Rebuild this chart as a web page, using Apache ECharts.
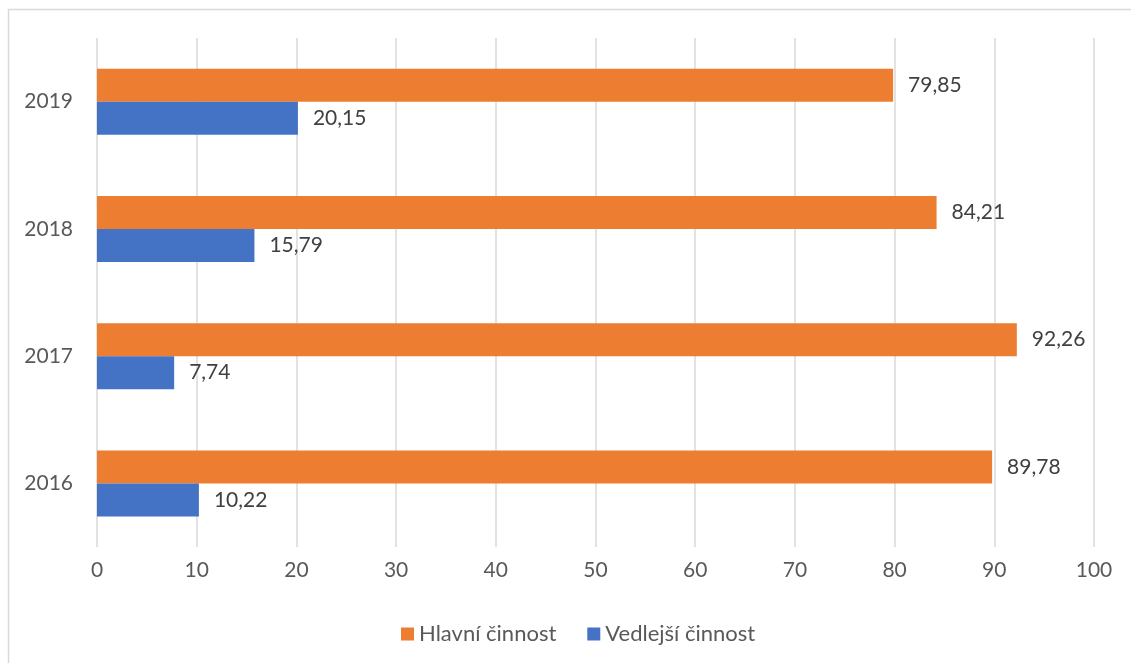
<!DOCTYPE html>
<html>
<head>
<meta charset="utf-8">
<script src="https://cdn.jsdelivr.net/npm/echarts@6/dist/echarts.min.js"></script>
<style>html,body{margin:0;padding:0;background:#fff}#c{width:1131px;height:663px}</style>
</head>
<body>
<div id="c"></div>
<script>
const categories = ['2016', '2017', '2018', '2019'];
const hlavni = [89.78, 92.26, 84.21, 79.85];
const vedlejsi = [10.22, 7.74, 15.79, 20.15];
const xTicks = [0, 10, 20, 30, 40, 50, 60, 70, 80, 90, 100];
const seriesNames = ['Hlavní činnost', 'Vedlejší činnost'];

const FONT = 'Lato';
const chart = echarts.init(document.getElementById('c'), null, {renderer: 'canvas'});
const fmt = p => String(p.value).replace('.', ',').replace(/,(\d)$/, ',$10');
chart.setOption({
  animation: false,
  backgroundColor: '#fff',
  graphic: [{
    type: 'rect', shape: {x: 8.5, y: 9.5, width: 1200, height: 800},
    style: {fill: 'none', stroke: '#d9d9d9', lineWidth: 1.5}, silent: true, z: -1
  }],
  grid: {left: 97, right: 37, top: 38, bottom: 116, containLabel: false},
  legend: {
    data: seriesNames, top: 618, left: 396,
    itemWidth: 13, itemHeight: 13, itemGap: 31, icon: 'rect',
    textStyle: {fontFamily: FONT, fontSize: 22, color: '#595959'}
  },
  xAxis: {
    type: 'value', min: xTicks[0], max: xTicks[xTicks.length - 1], interval: 10,
    axisLine: {show: false}, axisTick: {show: false},
    splitLine: {lineStyle: {color: '#d9d9d9', width: 1.5}},
    axisLabel: {fontFamily: FONT, fontSize: 21, color: '#595959', margin: 13}
  },
  yAxis: {
    type: 'category', data: categories,
    axisLine: {show: false}, axisTick: {show: false},
    axisLabel: {fontFamily: FONT, fontSize: 21, color: '#595959', margin: 24}
  },
  series: [
    {
      name: seriesNames[0], type: 'bar', data: hlavni, barWidth: 33, barGap: '0%',
      itemStyle: {color: '#ED7D31'},
      label: {show: true, position: 'right', distance: 15, fontFamily: FONT, fontSize: 21, color: '#404040', formatter: fmt}
    },
    {
      name: seriesNames[1], type: 'bar', data: vedlejsi, barWidth: 33, barGap: '0%',
      itemStyle: {color: '#4472C4'},
      label: {show: true, position: 'right', distance: 15, fontFamily: FONT, fontSize: 21, color: '#404040', formatter: fmt}
    }
  ]
});
</script>
</body>
</html>
